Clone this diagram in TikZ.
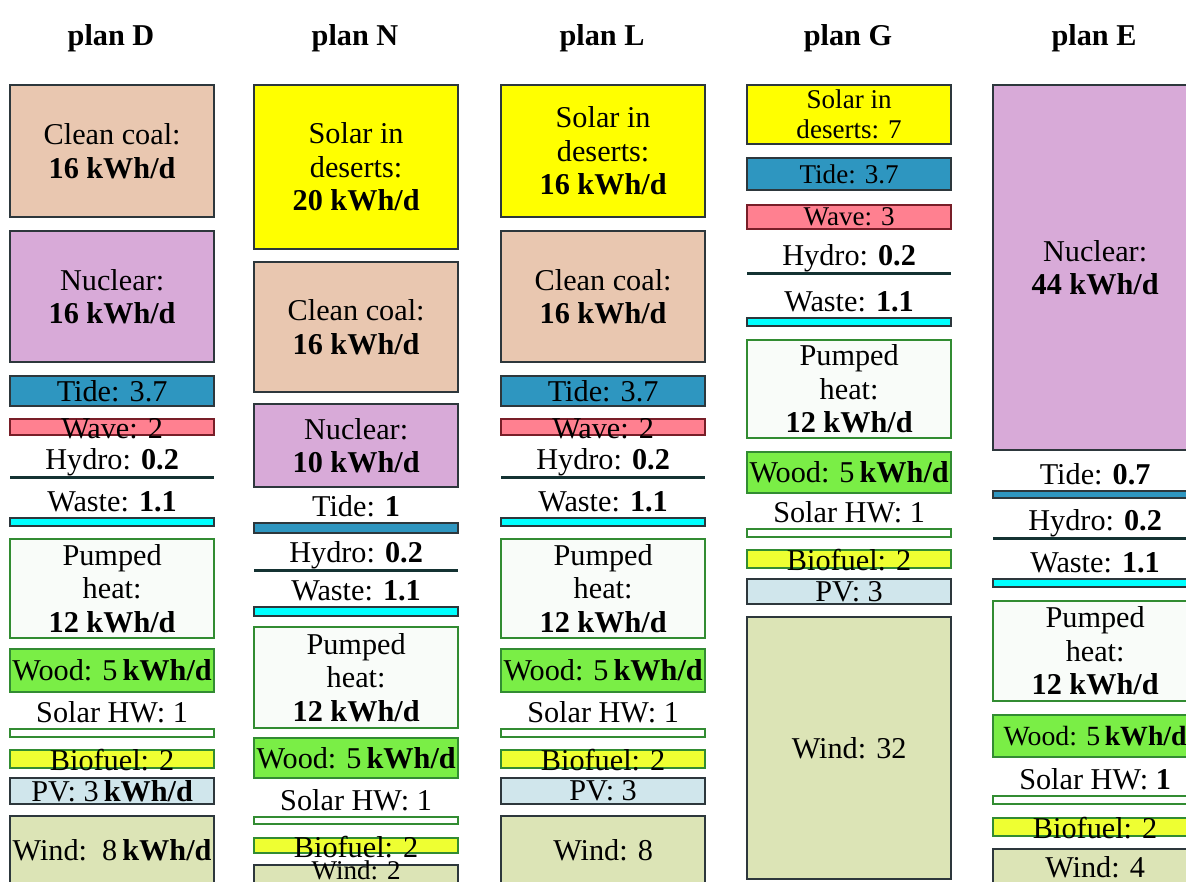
\documentclass[tikz,border=0pt]{standalone}
\usepackage{fontspec}
\setmainfont{Liberation Serif}
\usetikzlibrary{positioning}

\definecolor{lnc}{RGB}{45,55,60}
\definecolor{coalc}{RGB}{233,199,176}
\definecolor{nucc}{RGB}{216,170,216}
\definecolor{solc}{RGB}{255,255,0}
\definecolor{tidec}{RGB}{46,150,192}
\definecolor{wavec}{RGB}{255,128,144}
\definecolor{wavel}{RGB}{120,30,40}
\definecolor{hydc}{RGB}{20,50,50}
\definecolor{wastec}{RGB}{0,255,255}
\definecolor{greenl}{RGB}{50,140,50}
\definecolor{pumpc}{RGB}{249,252,249}
\definecolor{woodc}{RGB}{122,238,70}
\definecolor{biofc}{RGB}{238,255,50}
\definecolor{pvc}{RGB}{208,230,236}
\definecolor{windc}{RGB}{220,228,182}

\begin{document}
\begin{tikzpicture}[
                x=0.01cm, y=-0.01cm,
                every node/.append style={font=\fontsize{8.6}{9.5}\selectfont},
                base/.style={draw=lnc, line width=0.6pt, anchor=north west,
                    minimum width=2.04cm, inner sep=0pt},
                blk/.style={base, align=center},
                ht/.style={minimum height=#1*0.01cm},
                lbl/.style={inner sep=0pt, text depth=0pt},
                tag/.style={label={[lbl, yshift=0.05cm]above:{#1}}},
                inbar/.style={label={[lbl, text height=1.45ex]center:{#1}}},
                small/.style={font=\fontsize{7.7}{8.4}\selectfont},
                ttl/.style={font=\fontsize{8.6}{9.6}\selectfont\bfseries, inner sep=0pt},
                coal/.style={fill=coalc},
                nuc/.style={fill=nucc},
                sol/.style={fill=solc},
                tide/.style={fill=tidec},
                wave/.style={fill=wavec, draw=wavel},
                hydro/.style={base, draw=none, fill=hydc, minimum height=0.03cm},
                waste/.style={fill=wastec},
                pump/.style={fill=pumpc, draw=greenl},
                wood/.style={fill=woodc, draw=greenl},
                shw/.style={fill=white, draw=greenl},
                biof/.style={fill=biofc, draw=greenl},
                pv/.style={fill=pvc},
                wind/.style={fill=windc}
            ]
                \clip (0,0) rectangle (1186,881);
                \fill[white] (0,0) rectangle (1186,881);

                % column titles
                \foreach \p/\x in {D/111,N/355,L/602,G/848,E/1094}
                    \node[ttl] (t\p) at (\x,38) {plan \p};

                % plan D
                \node[blk,coal,ht=132] (Dcoal) at (9,84) {Clean coal:\\\textbf{16 kWh/d}};
                \node[blk,nuc,ht=131] (Dnuc) at (9,230) {Nuclear:\\\textbf{16 kWh/d}};
                \node[blk,tide,ht=30] (Dtide) at (9,375) {Tide: 3.7};
                \node[base,wave,ht=16,inbar={Wave: 2}] (Dwave) at (9,418) {};
                \node[hydro,tag={Hydro: \textbf{0.2}}] (Dhydro) at (9,475) {};
                \node[base,waste,ht=8,tag={Waste: \textbf{1.1}}] (Dwaste) at (9,517) {};
                \node[blk,pump,ht=99] (Dpump) at (9,538) {Pumped\\heat:\\\textbf{12 kWh/d}};
                \node[blk,wood,ht=43] (Dwood) at (9,648) {Wood: 5\,\textbf{kWh/d}};
                \node[base,shw,ht=8,tag={Solar HW: 1}] (Dshw) at (9,728) {};
                \node[base,biof,ht=18,inbar={Biofuel: 2}] (Dbio) at (9,749) {};
                \node[blk,pv,ht=26] (Dpv) at (9,777) {PV: 3\,\textbf{kWh/d}};
                \node[blk,wind,ht=69] (Dwind) at (9,815) {Wind: \,8\,\textbf{kWh/d}};

                % plan N
                \node[blk,sol,ht=164] (Nsol) at (253,84) {Solar in\\deserts:\\\textbf{20 kWh/d}};
                \node[blk,coal,ht=130] (Ncoal) at (253,261) {Clean coal:\\\textbf{16 kWh/d}};
                \node[blk,nuc,ht=83] (Nnuc) at (253,403) {Nuclear:\\\textbf{10 kWh/d}};
                \node[base,tide,ht=10,tag={Tide: \textbf{1}}] (Ntide) at (253,522) {};
                \node[hydro,tag={Hydro: \textbf{0.2}}] (Nhydro) at (253,568) {};
                \node[base,waste,ht=9,tag={Waste: \textbf{1.1}}] (Nwaste) at (253,606) {};
                \node[blk,pump,ht=101] (Npump) at (253,626) {Pumped\\heat:\\\textbf{12 kWh/d}};
                \node[blk,wood,ht=40] (Nwood) at (253,737) {Wood: 5\,\textbf{kWh/d}};
                \node[base,shw,ht=7,tag={Solar HW: 1}] (Nshw) at (253,816) {};
                \node[base,biof,ht=15,inbar={Biofuel: 2}] (Nbio) at (253,837) {};
                \node[base,wind,ht=30,label={[lbl, small, yshift=-0.165cm]above:{Wind: 2}}] (Nwind) at (253,864) {};

                % plan L
                \node[blk,sol,ht=132] (Lsol) at (500,84) {Solar in\\deserts:\\\textbf{16 kWh/d}};
                \node[blk,coal,ht=131] (Lcoal) at (500,230) {Clean coal:\\\textbf{16 kWh/d}};
                \node[blk,tide,ht=30] (Ltide) at (500,375) {Tide: 3.7};
                \node[base,wave,ht=16,inbar={Wave: 2}] (Lwave) at (500,418) {};
                \node[hydro,tag={Hydro: \textbf{0.2}}] (Lhydro) at (500,475) {};
                \node[base,waste,ht=8,tag={Waste: \textbf{1.1}}] (Lwaste) at (500,517) {};
                \node[blk,pump,ht=99] (Lpump) at (500,538) {Pumped\\heat:\\\textbf{12 kWh/d}};
                \node[blk,wood,ht=43] (Lwood) at (500,648) {Wood: 5\,\textbf{kWh/d}};
                \node[base,shw,ht=8,tag={Solar HW: 1}] (Lshw) at (500,728) {};
                \node[base,biof,ht=18,inbar={Biofuel: 2}] (Lbio) at (500,749) {};
                \node[blk,pv,ht=26] (Lpv) at (500,777) {PV: 3};
                \node[blk,wind,ht=69] (Lwind) at (500,815) {Wind: 8};

                % plan G
                \node[blk,sol,small,ht=59] (Gsol) at (746,84) {Solar in\\deserts: 7};
                \node[blk,tide,small,ht=32] (Gtide) at (746,157) {Tide: 3.7};
                \node[blk,wave,small,ht=24] (Gwave) at (746,204) {Wave: 3};
                \node[hydro,tag={Hydro: \textbf{0.2}}] (Ghydro) at (746,271) {};
                \node[base,waste,ht=8,tag={Waste: \textbf{1.1}}] (Gwaste) at (746,317) {};
                \node[blk,pump,ht=98] (Gpump) at (746,339) {Pumped\\heat:\\\textbf{12 kWh/d}};
                \node[blk,wood,ht=41] (Gwood) at (746,451) {Wood: 5\,\textbf{kWh/d}};
                \node[base,shw,ht=8,tag={Solar HW: 1}] (Gshw) at (746,528) {};
                \node[base,biof,ht=18,inbar={Biofuel: 2}] (Gbio) at (746,549) {};
                \node[blk,pv,ht=25] (Gpv) at (746,578) {PV: 3};
                \node[blk,wind,ht=262] (Gwind) at (746,616) {Wind: 32};

                % plan E
                \node[blk,nuc,ht=365] (Enuc) at (992,84) {Nuclear:\\\textbf{44 kWh/d}};
                \node[base,tide,ht=7,tag={Tide: \textbf{0.7}}] (Etide) at (992,490) {};
                \node[hydro,tag={Hydro: \textbf{0.2}}] (Ehydro) at (992,536) {};
                \node[base,waste,ht=8,tag={Waste: \textbf{1.1}}] (Ewaste) at (992,578) {};
                \node[blk,pump,ht=100] (Epump) at (992,600) {Pumped\\heat:\\\textbf{12 kWh/d}};
                \node[blk,wood,ht=42,font=\fontsize{7.9}{9.5}\selectfont] (Ewood) at (992,714) {Wood: 5\,\textbf{kWh/d}};
                \node[base,shw,ht=8,tag={Solar HW: \textbf{1}}] (Eshw) at (992,795) {};
                \node[base,biof,ht=18,inbar={Biofuel: 2}] (Ebio) at (992,817) {};
                \node[blk,wind,ht=36] (Ewind) at (992,848) {Wind: 4};
            \end{tikzpicture}
\end{document}
